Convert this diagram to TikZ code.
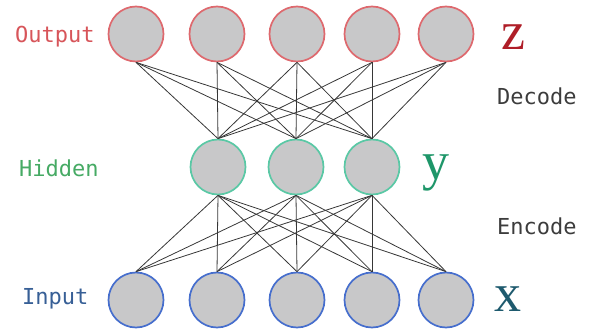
\documentclass[tikz,border=0pt]{standalone}
\usepackage{fontspec}
\newfontfamily\labfont{DejaVu Sans Mono}
\newfontfamily\varfont{Liberation Serif}
\definecolor{cfill}{RGB}{200,200,201}
\definecolor{cred}{RGB}{222,105,110}
\definecolor{cgreen}{RGB}{90,200,165}
\definecolor{cblue}{RGB}{70,110,205}
\definecolor{tred}{RGB}{215,85,90}
\definecolor{tgreen}{RGB}{70,170,100}
\definecolor{tblue}{RGB}{55,95,150}
\definecolor{vred}{RGB}{175,30,40}
\definecolor{vgreen}{RGB}{30,150,105}
\definecolor{vblue}{RGB}{30,90,110}
\definecolor{tgray}{RGB}{60,60,60}
\definecolor{edgec}{RGB}{55,55,55}
\tikzset{
  neuron/.style={circle, minimum size=55pt, inner sep=0pt, fill=cfill, line width=1.7pt},
  outn/.style={neuron, draw=cred},
  hidn/.style={neuron, draw=cgreen},
  inn/.style={neuron, draw=cblue},
  layerlab/.style={font=\labfont\fontsize{22}{24}\selectfont, anchor=base west, inner sep=0pt},
  varlab/.style={font=\varfont\fontsize{54}{56}\selectfont, inner sep=0pt},
  conn/.style={draw=edgec, line width=0.8pt}
}
\begin{document}
\begin{tikzpicture}[x=1pt,y=-1pt]
\useasboundingbox (0,0) rectangle (590,331);
% output
\node[outn] (o1) at (136,34) {};
\node[outn] (o2) at (217,34) {};
\node[outn] (o3) at (297,34) {};
\node[outn] (o4) at (372,34) {};
\node[outn] (o5) at (446,34) {};
% hidden
\node[hidn] (h1) at (218,167) {};
\node[hidn] (h2) at (296,167) {};
\node[hidn] (h3) at (372,167) {};
% input
\node[inn] (i1) at (136,300) {};
\node[inn] (i2) at (217,300) {};
\node[inn] (i3) at (297,300) {};
\node[inn] (i4) at (372,300) {};
\node[inn] (i5) at (446,300) {};
% connections
\foreach \o in {o1,o2,o3,o4,o5}{
  \foreach \h in {h1,h2,h3}{
    \draw[conn] (\o.south) -- (\h.north);
  }
}
\foreach \i in {i1,i2,i3,i4,i5}{
  \foreach \h in {h1,h2,h3}{
    \draw[conn] (\h.south) -- (\i.north);
  }
}
% layer labels
\node[layerlab, text=tred] (lo) at (15,43) {Output};
\node[layerlab, text=tgreen] (lh) at (19,177) {Hidden};
\node[layerlab, text=tblue] (li) at (22,305) {Input};
\node[layerlab, text=tgray] (ld) at (497,105) {Decode};
\node[layerlab, text=tgray] (le) at (497,235) {Encode};
% variable labels
\node[varlab, text=vred, anchor=base] (vz) at (513,50) {z};
\node[varlab, text=vgreen, anchor=base] (vy) at (436,180) {y};
\node[varlab, text=vblue, anchor=base] (vx) at (508,312) {x};
\end{tikzpicture}
\end{document}
